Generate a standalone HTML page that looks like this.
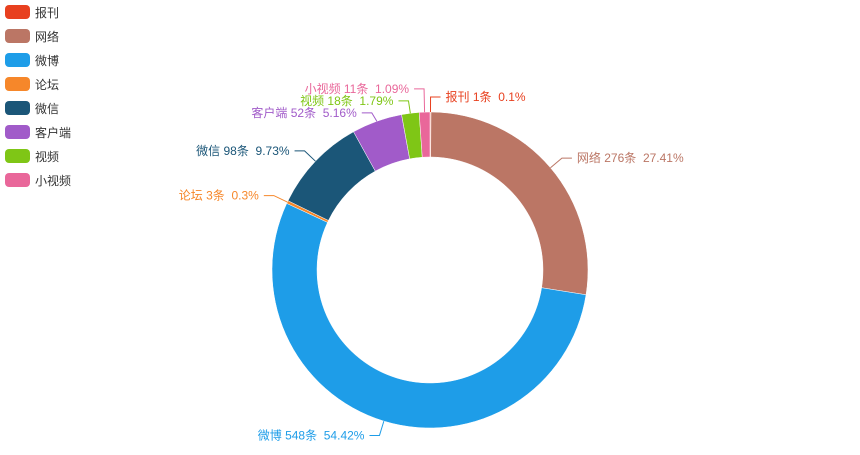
<!DOCTYPE html>
<html><head><meta charset="utf-8"><style>
body{margin:0;background:#fff;width:860px;height:450px;overflow:hidden;font-family:"Liberation Sans","Noto Sans CJK SC",sans-serif}
</style></head><body>
<svg id="c" width="860" height="450" xmlns="http://www.w3.org/2000/svg" style="font-family:'Liberation Sans','Noto Sans CJK SC',sans-serif"></svg>
<script>
const categories=["报刊","网络","微博","论坛","微信","客户端","视频","小视频"];
const values=[1,276,548,3,98,52,18,11];
const percents=["0.1%","27.41%","54.42%","0.3%","9.73%","5.16%","1.79%","1.09%"];
const colors=["#e8401f","#bb7665","#1e9de8","#f6872a","#1b5678","#a15bc9","#7fc616","#e9679a"];
const NS="http://www.w3.org/2000/svg",svg=document.getElementById('c');
const cx=430,cy=270,R=158,r=113;
function mk(t,a,p){const e=document.createElementNS(NS,t);for(const k in a)e.setAttribute(k,a[k]);(p||svg).appendChild(e);return e;}
// legend
categories.forEach((c,i)=>{
 const g=mk('g',{});
 
 
 const y=5+i*24;
 mk('rect',{x:5,y:y,width:25,height:14,rx:4,fill:colors[i]},g);
 const t=mk('text',{x:35,y:y+12,'font-size':12,fill:'#333'},g);t.textContent=c;
});
const total=values.reduce((a,b)=>a+b,0);
function pt(rad,ang){return [cx+rad*Math.sin(ang),cy-rad*Math.cos(ang)];}
let acc=0;const labels=[];
values.forEach((v,i)=>{
 const a0=acc/total*2*Math.PI;acc+=v;const a1=acc/total*2*Math.PI;
 const p1=pt(R,a0),p2=pt(R,a1),p3=pt(r,a1),p4=pt(r,a0);
 const large=(a1-a0)>Math.PI?1:0;
 const path=mk('path',{d:`M${p1}A${R},${R} 0 ${large} 1 ${p2}L${p3}A${r},${r} 0 ${large} 0 ${p4}Z`,fill:colors[i],stroke:'#fff','stroke-width':0.5});
 
 
 const m=(a0+a1)/2;const o=pt(R,m),e=pt(R+15,m);
 labels.push({i,o,ex:e[0],ey:e[1],right:Math.sin(m)>=0});
});
// simple overlap avoidance on left side
const left=labels.filter(l=>!l.right).sort((a,b)=>a.ey-b.ey);
let cluster=[left[0]];
function fix(cl){if(cl.length<2)return;const orig=cl.map(l=>l.ey);for(let k=1;k<cl.length;k++)if(cl[k].ey<cl[k-1].ey+12)cl[k].ey=cl[k-1].ey+12;let s=0;cl.forEach((l,k)=>s+=l.ey-orig[k]);s/=cl.length;cl.forEach(l=>l.ey-=s);}
for(let k=1;k<left.length;k++){if(left[k].ey-left[k-1].ey<12)cluster.push(left[k]);else{fix(cluster);cluster=[left[k]];}}
fix(cluster);
labels.forEach(l=>{
 const i=l.i,dir=l.right?1:-1;const hx=l.ex+dir*10;
 const pl=mk('polyline',{points:`${l.o} ${l.ex},${l.ey} ${hx},${l.ey}`,fill:'none',stroke:colors[i],'stroke-width':1});
 
 
 const t=mk('text',{x:hx+dir*5,y:l.ey+4,'font-size':12,fill:colors[i],'text-anchor':l.right?'start':'end'});
 
 
 t.textContent=categories[i]+' '+values[i]+'条  '+percents[i];
 t.setAttribute('xml:space','preserve');t.style.whiteSpace='pre';
});
</script>
</body></html>
